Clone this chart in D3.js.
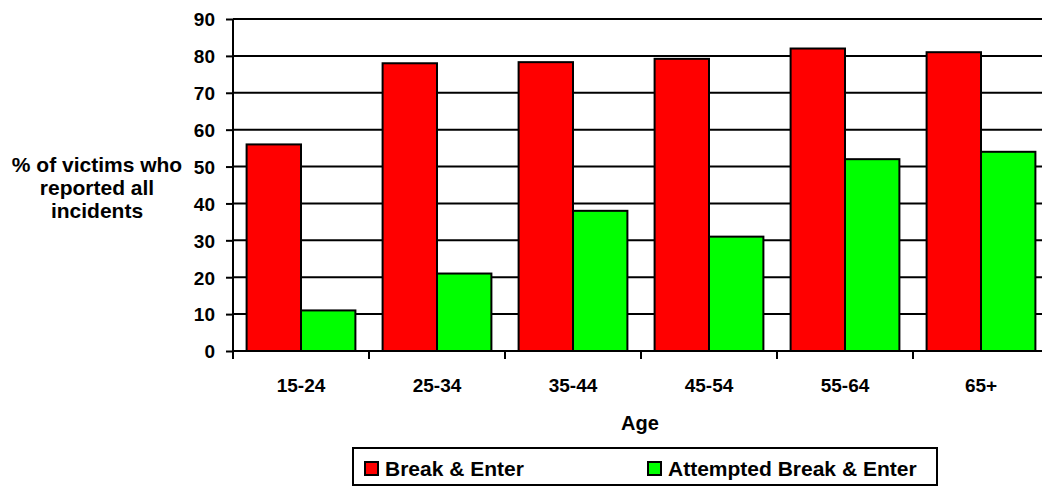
<!DOCTYPE html>
<html>
<head>
<meta charset="utf-8">
<script src="https://cdn.jsdelivr.net/npm/d3@7"></script>
<style>
  html, body { margin: 0; padding: 0; background: #fff; }
  svg { display: block; }
  svg text { font-family: "Liberation Sans", Arial, sans-serif; font-weight: bold; fill: #000; }
</style>
</head>
<body>
<svg id="chart" width="1042" height="486"></svg>
<script>
// Age groups and share of victims who reported all incidents (%)
const ageGroups = ["15-24", "25-34", "35-44", "45-54", "55-64", "65+"];
const breakEnter = [56, 78, 78.3, 79.2, 82, 81];
const attemptedBreakEnter = [11, 21, 38, 31, 52, 54];
const seriesNames = ["Break & Enter", "Attempted Break & Enter"];
const seriesColors = ["#ff0000", "#00ff00"];
const yTicks = [0, 10, 20, 30, 40, 50, 60, 70, 80, 90];

const svg = d3.select("#chart");
const plotLeft = 233, plotRight = 1049, plotTop = 19, plotBottom = 351;

const x = d3.scaleBand().domain(ageGroups).range([plotLeft, plotRight])
  .paddingInner(0.2).paddingOuter(0.1);
const x1 = d3.scaleBand().domain(seriesNames).range([0, x.bandwidth()]);
const y = d3.scaleLinear().domain([0, 90]).range([plotBottom, plotTop]);

// horizontal gridlines
svg.append("g").selectAll("line").data(yTicks.filter(d => d > 0)).join("line")
  .attr("x1", plotLeft).attr("x2", plotRight)
  .attr("y1", d => y(d)).attr("y2", d => y(d))
  .attr("stroke", "#000").attr("stroke-width", 2);

// bars
const rows = ageGroups.map((g, i) => ({ g, vals: [breakEnter[i], attemptedBreakEnter[i]] }));
const groups = svg.append("g").selectAll("g").data(rows).join("g")
  .attr("transform", d => `translate(${x(d.g)},0)`);
groups.selectAll("rect").data(d => d.vals.map((v, j) => ({ v, s: seriesNames[j], c: seriesColors[j] })))
  .join("rect")
  .attr("x", d => x1(d.s))
  .attr("width", x1.bandwidth())
  .attr("y", d => y(d.v))
  .attr("height", d => y(0) - y(d.v))
  .attr("fill", d => d.c)
  .attr("stroke", "#000").attr("stroke-width", 2);

// y axis
const yAxis = d3.axisLeft(y).tickValues(yTicks).tickSize(7).tickPadding(11);
const gy = svg.append("g").attr("transform", `translate(${plotLeft},0)`).call(yAxis);
gy.select(".domain").attr("stroke", "#000").attr("stroke-width", 2).attr("d", `M0,${plotTop}V${plotBottom + 6}`);
gy.selectAll(".tick line").attr("stroke", "#000").attr("stroke-width", 2);
gy.selectAll(".tick text").attr("font-size", 19).attr("dy", "0.36em");

// x axis: baseline, tick marks between groups, category labels
svg.append("line").attr("x1", plotLeft).attr("x2", plotRight).attr("y1", plotBottom).attr("y2", plotBottom)
  .attr("stroke", "#000").attr("stroke-width", 2);
const step = x.step();
const boundaries = d3.range(ageGroups.length + 1).map(i => plotLeft + i * step);
svg.append("g").selectAll("line").data(boundaries).join("line")
  .attr("x1", d => d).attr("x2", d => d)
  .attr("y1", plotBottom).attr("y2", plotBottom + 8)
  .attr("stroke", "#000").attr("stroke-width", 2);
svg.append("g").selectAll("text").data(ageGroups).join("text")
  .attr("x", d => x(d) + x.bandwidth() / 2)
  .attr("y", 392)
  .attr("text-anchor", "middle")
  .attr("font-size", 19)
  .text(d => d);

// axis titles
svg.append("text").attr("x", 640).attr("y", 430).attr("text-anchor", "middle")
  .attr("font-size", 20).text("Age");
const yTitle = svg.append("text").attr("text-anchor", "middle").attr("font-size", 21);
["% of victims who", "reported all", "incidents"].forEach((t, i) => {
  yTitle.append("tspan").attr("x", 97).attr("y", 172 + i * 23).text(t);
});

// legend
const legend = svg.append("g");
legend.append("rect").attr("x", 353).attr("y", 448).attr("width", 584).attr("height", 37)
  .attr("fill", "#fff").attr("stroke", "#000").attr("stroke-width", 2);
const legendX = [365, 648];
seriesNames.forEach((name, i) => {
  legend.append("rect").attr("x", legendX[i]).attr("y", 462).attr("width", 13).attr("height", 13)
    .attr("fill", seriesColors[i]).attr("stroke", "#000").attr("stroke-width", 2);
  legend.append("text").attr("x", legendX[i] + 20).attr("y", 476).attr("font-size", 21).text(name);
});
</script>
</body>
</html>
